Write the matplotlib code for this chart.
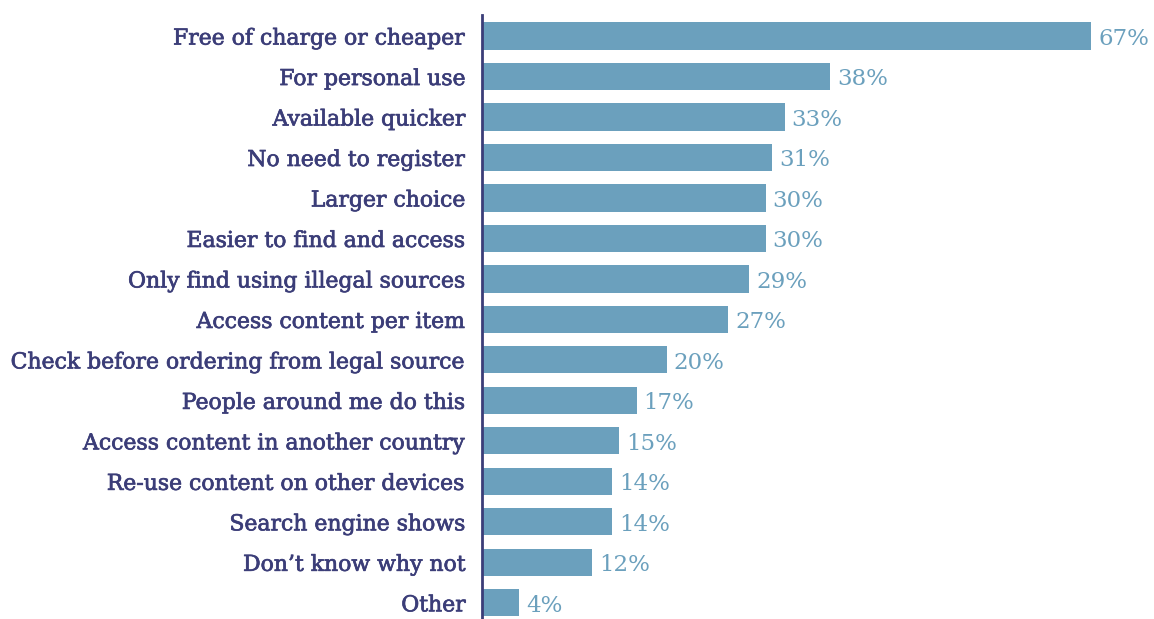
import matplotlib.pyplot as plt
import matplotlib.patheffects as pe

categories = [
    "Free of charge or cheaper",
    "For personal use",
    "Available quicker",
    "No need to register",
    "Larger choice",
    "Easier to find and access",
    "Only find using illegal sources",
    "Access content per item",
    "Check before ordering from legal source",
    "People around me do this",
    "Access content in another country",
    "Re-use content on other devices",
    "Search engine shows",
    "Don\u2019t know why not",
    "Other",
]
# bar lengths (%), and the printed labels
values = [67, 38.3, 33.3, 31.9, 31.2, 31.2, 29.4, 27.1, 20.3, 17.0, 15.1, 14.3, 14.3, 12.1, 4.1]
value_labels = ["67%", "38%", "33%", "31%", "30%", "30%", "29%", "27%",
                "20%", "17%", "15%", "14%", "14%", "12%", "4%"]

bar_color = "#6ba0bd"
text_color = "#3b3d78"

fig = plt.figure(figsize=(11.54, 6.19), dpi=100)
ax = fig.add_axes([482 / 1154, 0, 1 - 482 / 1154, 1 - 15 / 619])

y = range(len(categories))
ax.barh(y, values, height=0.67, color=bar_color)
for i, (v, lab) in enumerate(zip(values, value_labels)):
    ax.text(v + 0.75, i + 0.07, lab, va="center", ha="left",
            color=bar_color, fontsize=16.5, family="DejaVu Serif")

ax.set_xlim(0, 73.9)
ax.set_ylim(14.4, -0.52)
ax.set_yticks(list(y))
ax.set_yticklabels(categories, fontsize=15.8, color=text_color, family="DejaVu Serif")
for t in ax.get_yticklabels():
    t.set_path_effects([pe.withStroke(linewidth=0.5, foreground=text_color)])
ax.tick_params(axis="y", length=0, pad=11.5)
ax.set_xticks([])
for s in ["top", "right", "bottom"]:
    ax.spines[s].set_visible(False)
ax.spines["left"].set_color(text_color)
ax.spines["left"].set_linewidth(2)

fig.savefig("out.png", dpi=100)
